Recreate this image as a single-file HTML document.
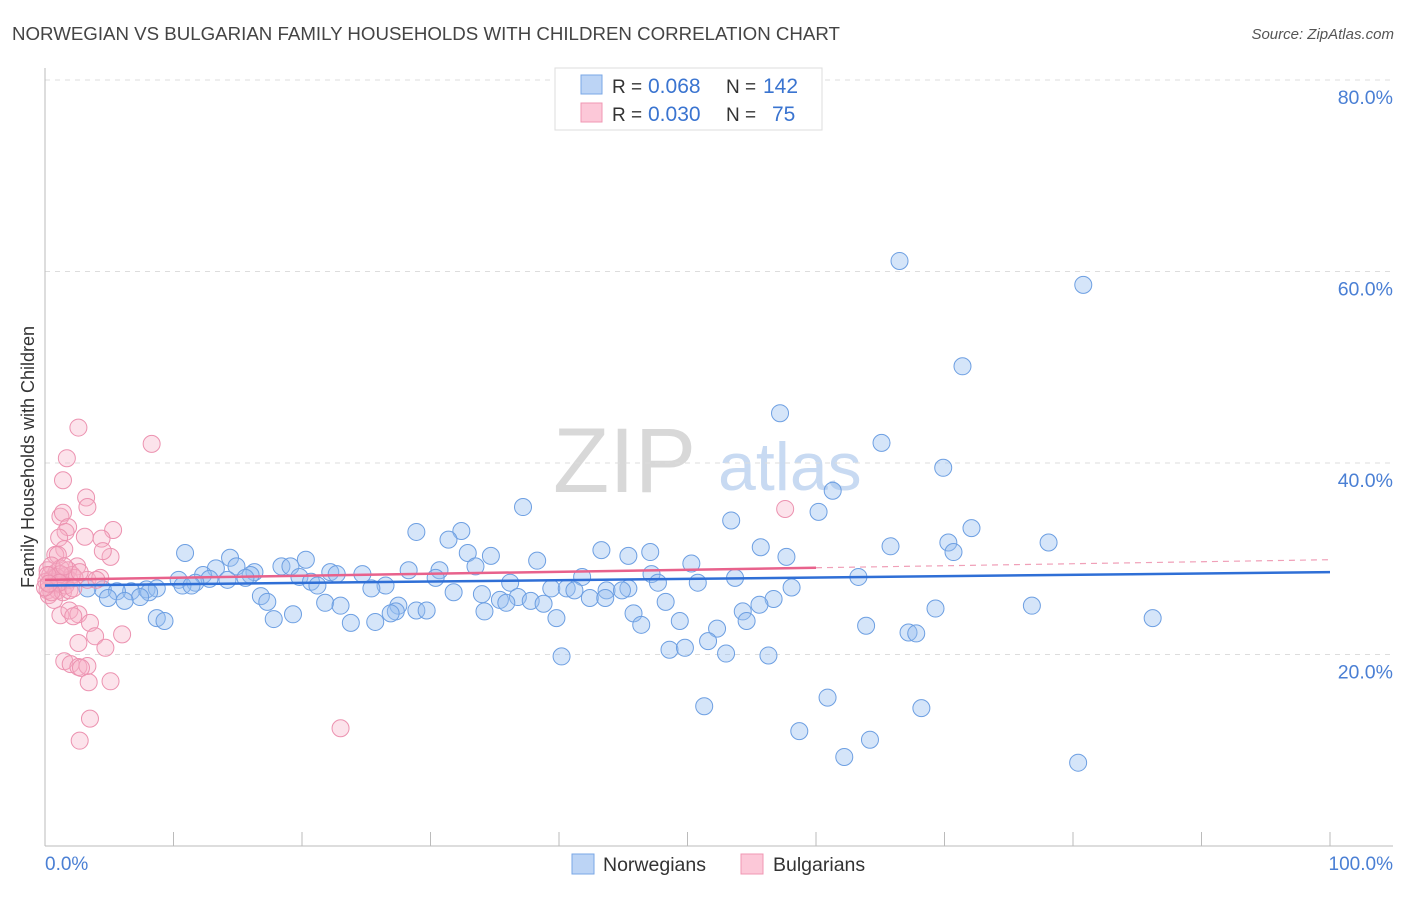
<!DOCTYPE html>
<html><head><meta charset="utf-8"><style>
body{margin:0;background:#fff;font-family:"Liberation Sans",sans-serif;}
svg text{font-family:"Liberation Sans",sans-serif;}
</style></head><body>
<svg id="chart" width="1406" height="892" xmlns="http://www.w3.org/2000/svg">
<text x="12" y="40" font-size="18.7" fill="#444">NORWEGIAN VS BULGARIAN FAMILY HOUSEHOLDS WITH CHILDREN CORRELATION CHART</text>
<text x="1394" y="39" font-size="15" fill="#555" font-style="italic" text-anchor="end">Source: ZipAtlas.com</text>
<g><text x="553" y="492" font-size="92" fill="#d8d8d8" font-family="Liberation Serif">ZIP</text><text x="718" y="490" font-size="68" fill="#c8daf2">atlas</text></g>
<g id="grid"></g><g id="axes"></g><g id="pts"></g><g id="lines"></g>
<text x="34" y="457" font-size="18" fill="#333" text-anchor="middle" transform="rotate(-90 34 457)">Family Households with Children</text>
<text x="45" y="870" font-size="19" fill="#4a7fd4">0.0%</text>
<text x="1393" y="870" font-size="19" fill="#4a7fd4" text-anchor="end">100.0%</text>
<g>
<rect x="555" y="68" width="267" height="62" fill="#fff" stroke="#ddd"/>
<rect x="581" y="75" width="21" height="19" fill="#bcd4f5" stroke="#7aa7e6"/>
<rect x="581" y="103" width="21" height="19" fill="#fcc8d8" stroke="#f097b3"/>
<text x="612" y="93" font-size="19" fill="#333">R = <tspan x="648" font-size="21" fill="#3a74d0">0.068</tspan><tspan x="726">N = </tspan><tspan x="763" font-size="21" fill="#3a74d0">142</tspan></text>
<text x="612" y="121" font-size="19" fill="#333">R = <tspan x="648" font-size="21" fill="#3a74d0">0.030</tspan><tspan x="726">N = </tspan><tspan x="772" font-size="21" fill="#3a74d0">75</tspan></text>
</g>
<g>
<rect x="572" y="854" width="22" height="20" fill="#bcd4f5" stroke="#7aa7e6"/>
<text x="603" y="871" font-size="19.5" fill="#333">Norwegians</text>
<rect x="741" y="854" width="22" height="20" fill="#fcc8d8" stroke="#f097b3"/>
<text x="773" y="871" font-size="19.5" fill="#333">Bulgarians</text>
</g>
</svg>
<script>
const yTicks=[20,40,60,80];
const xTicks=[0,10,20,30,40,50,60,70,80,90,100];
const blueX=[66.5,80.8,71.4,57.2,65.1,69.9,61.3,37.2,53.4,60.2,72.1,28.9,32.4,31.4,70.3,78.1,65.8,55.7,70.7,43.3,47.1,10.9,32.9,34.7,45.4,57.7,20.3,38.3,14.4,50.3,18.4,13.3,19.1,14.9,33.5,16.3,28.3,30.7,22.2,12.3,24.7,22.7,16.0,47.2,19.8,30.4,41.8,63.3,53.7,15.6,12.8,10.4,14.2,11.7,20.7,36.2,50.8,47.7,10.7,21.2,11.4,26.5,25.4,45.4,39.4,40.6,7.9,8.7,6.7,8.1,4.5,3.3,5.6,31.8,58.1,41.2,43.7,44.9,34.0,16.8,42.4,43.6,7.4,4.9,6.2,17.3,36.8,35.4,37.8,35.9,38.8,21.8,23.0,56.7,48.3,55.6,27.5,28.9,27.3,29.7,34.2,26.9,76.8,69.3,54.3,45.8,8.7,9.3,17.8,19.3,39.8,86.2,23.8,25.7,49.4,54.6,46.4,63.9,52.3,67.2,67.8,51.6,40.2,48.6,49.8,53.0,56.3,60.9,51.3,68.2,58.7,64.2,62.2,80.4];
const blueY=[61.1,58.6,50.1,45.2,42.1,39.5,37.1,35.4,34.0,34.9,33.2,32.8,32.9,32.0,31.7,31.7,31.3,31.2,30.7,30.9,30.7,30.6,30.6,30.3,30.3,30.2,29.9,29.8,30.1,29.5,29.2,29.0,29.2,29.2,29.2,28.6,28.8,28.8,28.6,28.3,28.4,28.4,28.3,28.4,28.1,28.0,28.1,28.1,28.0,28.0,27.9,27.8,27.8,27.5,27.6,27.5,27.5,27.5,27.2,27.2,27.2,27.2,26.9,26.9,26.9,26.9,26.8,26.9,26.6,26.5,26.8,26.9,26.6,26.5,27.0,26.7,26.7,26.7,26.3,26.1,25.9,25.9,26.0,25.9,25.6,25.5,26.0,25.7,25.6,25.4,25.3,25.4,25.1,25.8,25.5,25.2,25.1,24.6,24.5,24.6,24.5,24.3,25.1,24.8,24.5,24.3,23.8,23.5,23.7,24.2,23.8,23.8,23.3,23.4,23.5,23.5,23.1,23.0,22.7,22.3,22.2,21.4,19.8,20.5,20.7,20.1,19.9,15.5,14.6,14.4,12.0,11.1,9.3,8.7];
const pinkX=[2.6,1.7,1.4,3.2,3.3,1.2,1.4,1.8,1.6,1.1,1.5,0.8,1.0,5.3,4.4,5.1,3.1,4.5,2.5,3.3,4.3,1.2,1.9,2.6,2.2,3.5,3.9,4.7,6.0,2.6,1.5,2.0,2.6,3.3,2.8,3.4,5.1,3.5,2.7,23.0,8.3,57.6,0.2,0.4,0.5,0.8,0.2,0.3,0.6,0.9,1.2,1.3,1.6,1.8,1.9,1.0,0.1,0.5,0.7,1.4,2.1,1.6,2.3,2.7,0.9,1.2,1.9,0.2,1.1,1.5,2.2,0.5,4.0,0.0,0.3];
const pinkY=[43.7,40.5,38.2,36.4,35.4,34.4,34.8,33.3,32.8,32.2,31.0,30.4,30.4,33.0,32.1,30.2,32.3,30.8,29.2,27.8,28.0,24.1,24.6,24.2,24.0,23.3,21.9,20.7,22.1,21.2,19.3,19.0,18.7,18.8,18.6,17.1,17.2,13.3,11.0,12.3,42.0,35.2,28.8,28.3,27.8,27.3,26.7,26.2,28.0,28.6,29.0,27.6,28.2,28.8,27.8,26.7,27.6,29.3,25.7,26.5,28.3,27.2,28.0,28.6,28.1,28.4,26.7,28.3,27.5,29.2,26.9,26.5,27.8,27.0,27.4];
const blueLine=[27.2,28.6];
const pinkLine=[27.8,29.9];
const pinkSolidEnd=60;
const X=v=>45+v*12.85, Y=v=>846-v*9.575;
const NS='http://www.w3.org/2000/svg';
function mk(t,a,p){const e=document.createElementNS(NS,t);for(const k in a)e.setAttribute(k,a[k]);p.appendChild(e);return e;}
const grid=document.getElementById('grid'),axes=document.getElementById('axes'),pts=document.getElementById('pts'),lines=document.getElementById('lines');
yTicks.forEach(t=>{
 const l=mk('line',{x1:45,x2:1393,y1:Y(t),y2:Y(t),stroke:'#ddd','stroke-dasharray':'5,5'},grid);
 
 
 const tx=mk('text',{x:1393,y:Y(t)+24,'font-size':19.5,fill:'#4a7fd4','text-anchor':'end'},grid);
 tx.textContent=t.toFixed(1)+'%';
 
 
});
const ya=mk('line',{x1:45,x2:45,y1:68,y2:846,stroke:'#bbb'},axes);


const xa=mk('line',{x1:45,x2:1393,y1:846,y2:846,stroke:'#bbb'},axes);


xTicks.forEach(t=>{
 const l=mk('line',{x1:X(t),x2:X(t),y1:832,y2:846,stroke:'#bbb'},axes);
 
 
});
blueX.forEach((v,i)=>{
 const c=mk('circle',{cx:X(v),cy:Y(blueY[i]),r:8.5,fill:'rgba(150,190,240,0.4)',stroke:'#6d9fe2','stroke-width':1},pts);
 
 
});
pinkX.forEach((v,i)=>{
 const c=mk('circle',{cx:X(v),cy:Y(pinkY[i]),r:8.5,fill:'rgba(245,175,198,0.35)',stroke:'#ec92b0','stroke-width':1},pts);
 
 
});
const bl=mk('line',{x1:X(0),y1:Y(blueLine[0]),x2:X(100),y2:Y(blueLine[1]),stroke:'#2f6fd6','stroke-width':2.5},lines);


const pm=pinkLine[0]+(pinkLine[1]-pinkLine[0])*pinkSolidEnd/100;
const pl=mk('line',{x1:X(0),y1:Y(pinkLine[0]),x2:X(pinkSolidEnd),y2:Y(pm),stroke:'#e8628c','stroke-width':2.5},lines);


const pd=mk('line',{x1:X(pinkSolidEnd),y1:Y(pm),x2:X(100),y2:Y(pinkLine[1]),stroke:'#f0a0b8','stroke-width':1.2,'stroke-dasharray':'6,5'},lines);


</script>
</body></html>
